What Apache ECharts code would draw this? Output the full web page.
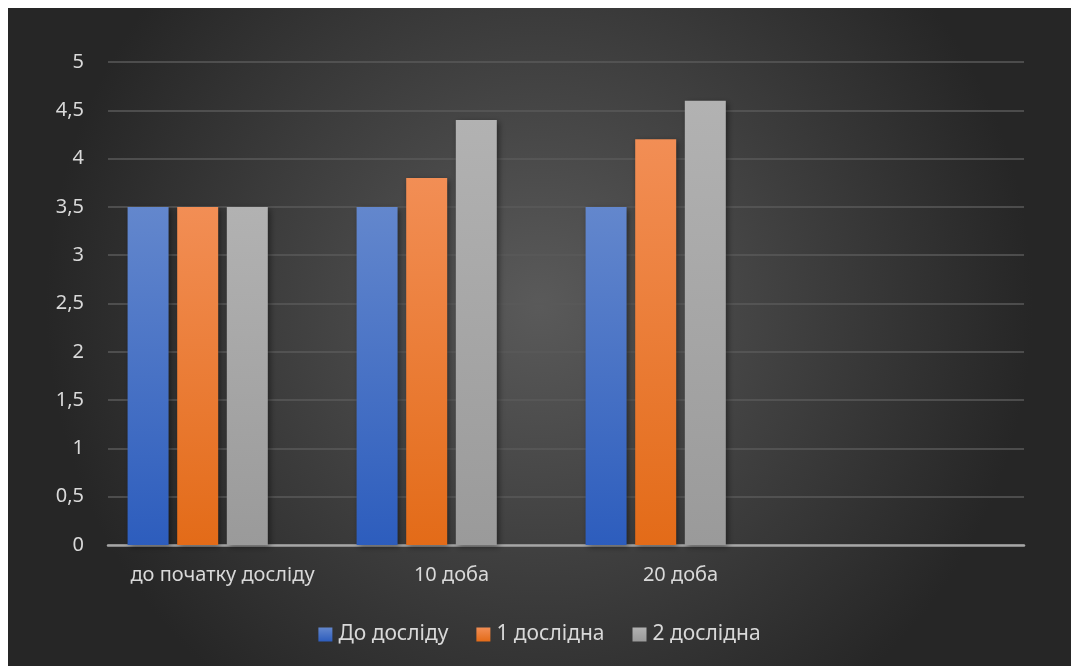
<!DOCTYPE html>
<html><head><meta charset="utf-8">
<script src="https://cdn.jsdelivr.net/npm/echarts@6/dist/echarts.min.js"></script>
<style>html,body{margin:0;padding:0;background:#fff;width:1071px;height:666px;overflow:hidden}
#c{position:absolute;left:8px;top:8px;width:1063px;height:658px}</style>
</head><body><div id="c"></div>
<script>
const categories = ['до початку досліду', '10 доба', '20 доба', ''];
const seriesNames = ['До досліду', '1 дослідна', '2 дослідна'];
const valuesBefore = [3.5, 3.5, 3.5, null];
const values1 = [3.5, 3.8, 4.2, null];
const values2 = [3.5, 4.4, 4.6, null];
const emptySeries = [null, null, null, null];

const grad = (top, bottom) => new echarts.graphic.LinearGradient(0, 0, 0, 1, [{offset: 0, color: top}, {offset: 1, color: bottom}]);
const font = 'Noto Sans';
const barStyle = (top, bottom) => ({color: grad(top, bottom), shadowColor: 'rgba(0,0,0,0.45)', shadowBlur: 6, shadowOffsetX: 2, shadowOffsetY: 2});

const chart = echarts.init(document.getElementById('c'));
chart.setOption({
  backgroundColor: new echarts.graphic.RadialGradient(0.5, 0.45, 0.75, [{offset: 0, color: '#5a5a5a'}, {offset: 1, color: '#262626'}]),
  animation: false,
  grid: {left: 100, right: 47, top: 54, bottom: 121, containLabel: false},
  legend: {
    data: seriesNames, bottom: 16, left: 'center', itemWidth: 14, itemHeight: 14, itemGap: 28,
    icon: 'rect',
    textStyle: {color: '#d9d9d9', fontSize: 21, fontFamily: font, padding: [0, 0, 0, 1]}
  },
  xAxis: {
    type: 'category', data: categories,
    axisLine: {lineStyle: {color: '#a6a6a6', width: 2.5}},
    axisTick: {show: false},
    axisLabel: {color: '#d9d9d9', fontSize: 20, fontFamily: font, margin: 20, interval: 0}
  },
  yAxis: {
    type: 'value', min: 0, max: 5, interval: 0.5,
    axisLine: {show: false}, axisTick: {show: false},
    splitLine: {lineStyle: {color: '#5a5a5a', width: 1.5}},
    axisLabel: {color: '#d9d9d9', fontSize: 20, fontFamily: font, margin: 24,
      formatter: v => String(v).replace('.', ',')}
  },
  series: [
    {name: seriesNames[0], type: 'bar', data: valuesBefore, barWidth: 41, barGap: '21%', itemStyle: barStyle('#6387cd', '#2d5dbd')},
    {name: seriesNames[1], type: 'bar', data: values1, barWidth: 41, barGap: '21%', itemStyle: barStyle('#f28e55', '#e36b18')},
    {name: seriesNames[2], type: 'bar', data: values2, barWidth: 41, barGap: '21%', itemStyle: barStyle('#b2b2b2', '#9a9a9a')},
    {name: '', type: 'bar', data: emptySeries, barWidth: 41, barGap: '21%'}
  ]
});
</script></body></html>
